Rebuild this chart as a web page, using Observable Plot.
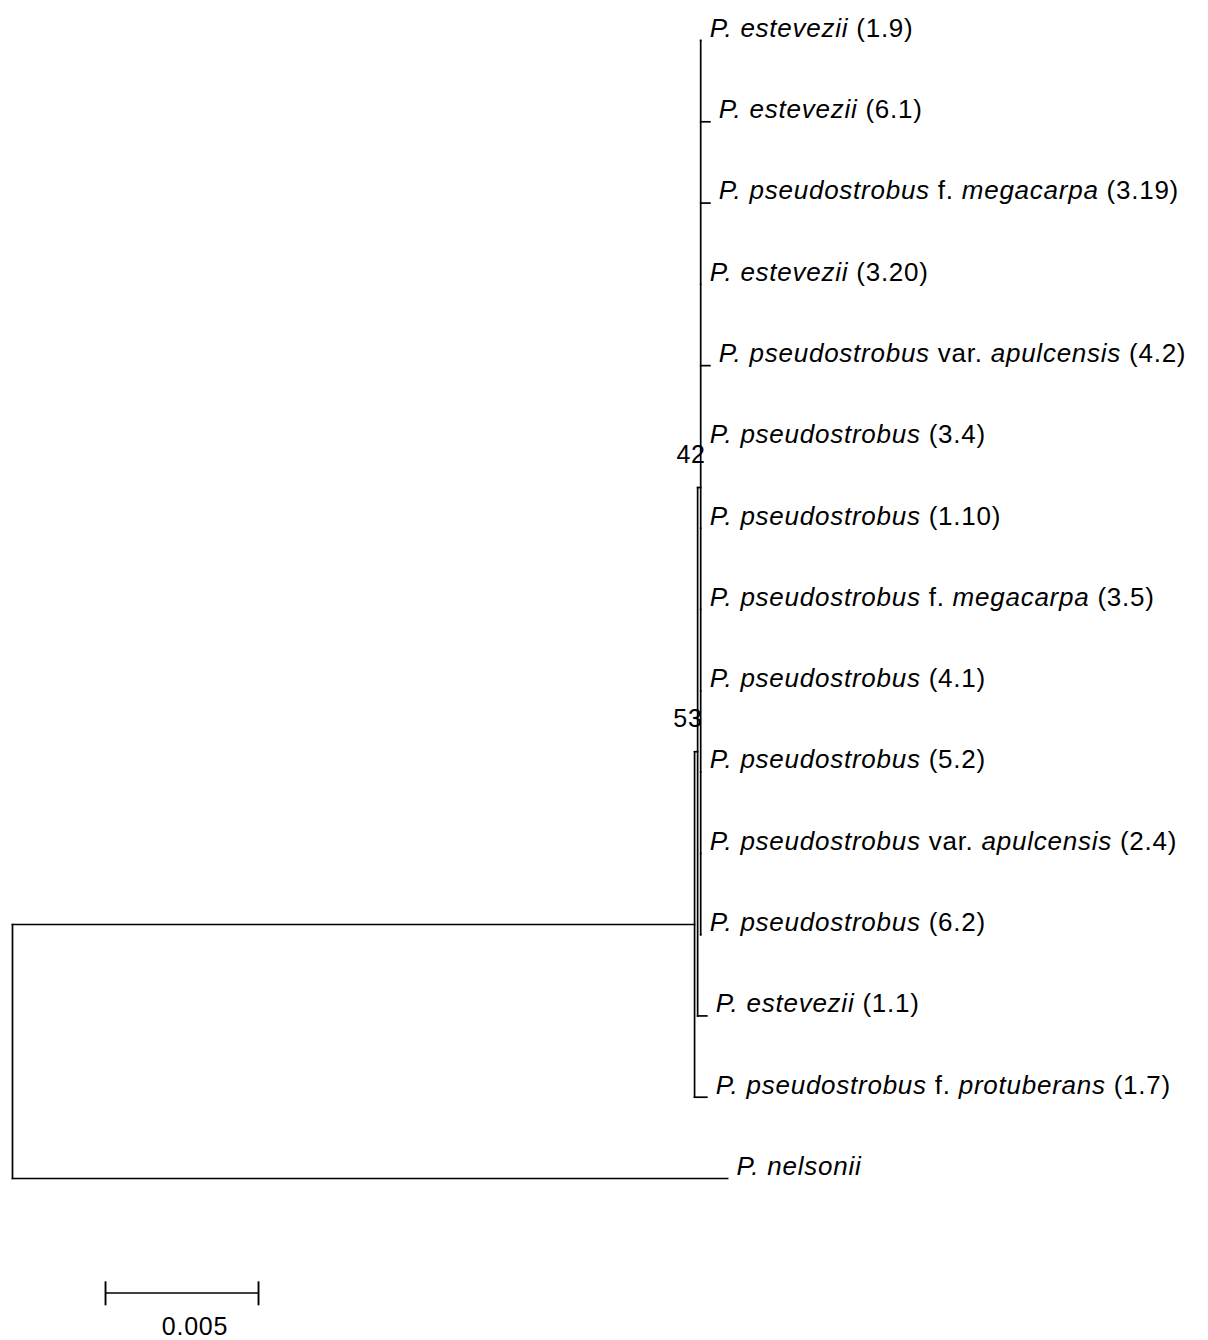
<!DOCTYPE html>
<html><head><meta charset="utf-8">
<script src="https://cdn.jsdelivr.net/npm/d3@7"></script>
<script src="https://cdn.jsdelivr.net/npm/@observablehq/plot@0.6"></script>
<style>
html,body{margin:0;padding:0;background:#fff;}
#chart svg text{letter-spacing:0.75px;}
</style></head><body><div id="chart"></div>
<script>
// Tip labels (segments between * are italic), in top-to-bottom order
const taxa = [
  "*P. estevezii* (1.9)",
  "*P. estevezii* (6.1)",
  "*P. pseudostrobus* f. *megacarpa* (3.19)",
  "*P. estevezii* (3.20)",
  "*P. pseudostrobus* var. *apulcensis* (4.2)",
  "*P. pseudostrobus* (3.4)",
  "*P. pseudostrobus* (1.10)",
  "*P. pseudostrobus* f. *megacarpa* (3.5)",
  "*P. pseudostrobus* (4.1)",
  "*P. pseudostrobus* (5.2)",
  "*P. pseudostrobus* var. *apulcensis* (2.4)",
  "*P. pseudostrobus* (6.2)",
  "*P. estevezii* (1.1)",
  "*P. pseudostrobus* f. *protuberans* (1.7)",
  "*P. nelsonii*"
];
const taxaParents = ["n42","n42","n42","n42","n42","n42","n42","n42","n42","n42","n42","n42","n53","A","root"];
const taxaLengths = [0, 0.0003, 0.0003, 0, 0.0003, 0, 0, 0, 0, 0, 0, 0, 0.0003, 0.0004, 0.02337];

// Internal nodes
const nodeNames = ["root", "A", "n53", "n42"];
const nodeParents = [null, "root", "A", "n53"];
const nodeLengths = [0, 0.02229, 0.0001, 0.0001];
const nodeSupport = [null, null, 53, 42];

const scaleBarLength = 0.005;
const scaleBarLabel = "0.005";

// ---- build tree ----
const nodes = new Map();
nodeNames.forEach((n, i) => nodes.set(n, {id: n, parent: nodeParents[i], len: nodeLengths[i], support: nodeSupport[i], children: []}));
taxa.forEach((t, i) => nodes.set("t" + i, {id: "t" + i, label: t, parent: taxaParents[i], len: taxaLengths[i], children: [], order: i}));
for (const n of nodes.values()) if (n.parent) nodes.get(n.parent).children.push(n);
function layout(n, depth) {
  n.x = depth + n.len;
  if (n.children.length) {
    n.children.forEach(c => layout(c, n.x));
    const ys = n.children.map(c => c.y);
    n.y0 = Math.min(...ys); n.y1 = Math.max(...ys);
    n.y = (n.y0 + n.y1) / 2;
  } else n.y = n.order;
}
const root = nodes.get("root");
layout(root, 0);

const all = [...nodes.values()];
const horiz = all.filter(n => n.parent).map(n => ({x1: nodes.get(n.parent).x, x2: n.x, y: n.y}));
const vert = all.filter(n => n.children.length).map(n => ({x: n.x, y1: n.y0, y2: n.y1}));
const tips = all.filter(n => !n.children.length);
const supports = all.filter(n => n.support != null);

const barStart = 0.00304, barY = 15.41;

const chart = Plot.plot({
  width: 1208,
  height: 1340,
  margin: 0,
  x: {axis: null, domain: [0, 1200 / 30600], range: [12, 1212]},
  y: {axis: null, domain: [0, 14], range: [40, 1178]},
  style: {fontFamily: "Arial, 'Liberation Sans', sans-serif", background: "#fff", color: "#000"},
  marks: [
    Plot.link(horiz, {x1: "x1", x2: "x2", y1: "y", y2: "y", stroke: "#000", strokeWidth: 1.7, strokeLinecap: "square"}),
    Plot.link(vert, {x1: "x", x2: "x", y1: "y1", y2: "y2", stroke: "#000", strokeWidth: 1.7, strokeLinecap: "square"}),
    Plot.text(tips, {x: "x", y: "y", text: "label", textAnchor: "start", dx: 9, dy: -12, fontSize: 26, fill: "#000"}),
    Plot.text(supports, {x: "x", y: "y", text: d => String(d.support), textAnchor: "end", dx: 5, dy: -33, fontSize: 25, fill: "#000"}),
    // scale bar
    Plot.link([{a: barStart, b: barStart + scaleBarLength}], {x1: "a", x2: "b", y1: () => barY, y2: () => barY, stroke: "#000", strokeWidth: 1.5}),
    Plot.link([barStart, barStart + scaleBarLength], {x1: d => d, x2: d => d, y1: () => barY - 0.145, y2: () => barY + 0.15, stroke: "#000", strokeWidth: 1.9}),
    Plot.text([scaleBarLabel], {x: () => barStart + scaleBarLength / 2, y: () => barY, text: d => d, dx: 13, dy: 34, fontSize: 25, fill: "#000"})
  ]
});

// italic segments
chart.querySelectorAll("text").forEach(t => {
  const s = t.textContent;
  if (!s.includes("*")) return;
  t.textContent = "";
  s.split("*").forEach((part, i) => {
    if (!part) return;
    const ts = document.createElementNS("http://www.w3.org/2000/svg", "tspan");
    ts.textContent = part;
    if (i % 2 === 1) ts.setAttribute("font-style", "italic");
    t.appendChild(ts);
  });
});

document.getElementById("chart").appendChild(chart);
</script>
</body></html>
